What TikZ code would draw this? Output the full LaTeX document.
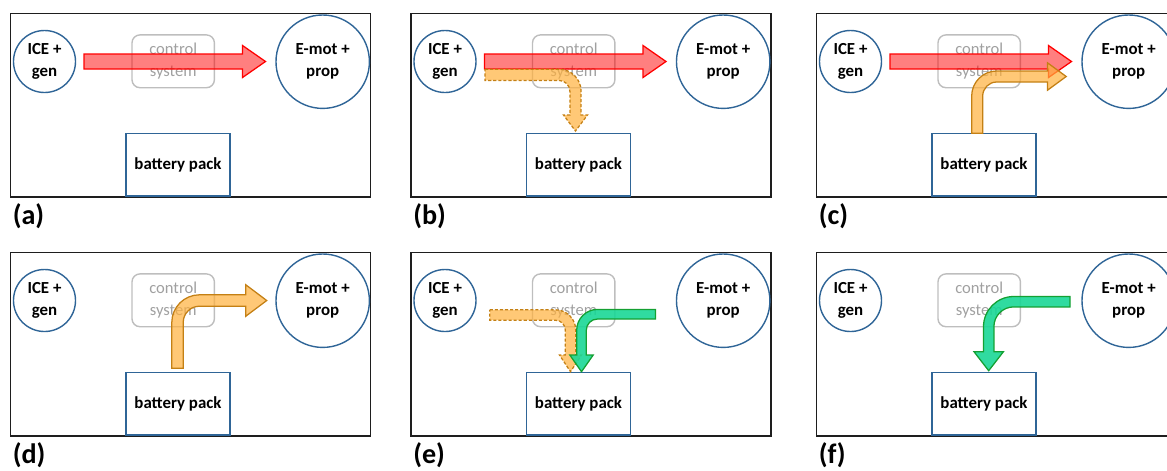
\documentclass[tikz,border=0pt]{standalone}
\usepackage{fontspec}
\setmainfont{Carlito}
\usepackage{tikz}
\usepackage{xcolor}

\definecolor{circblue}{RGB}{47,101,151}
\definecolor{framegray}{RGB}{30,30,30}
\definecolor{ctrlgray}{RGB}{190,190,190}
\definecolor{ctrltext}{RGB}{160,160,160}
\definecolor{redline}{RGB}{255,0,0}
\definecolor{orangefill}{RGB}{255,176,60}
\definecolor{orangeline}{RGB}{196,128,20}
\definecolor{greenfill}{RGB}{25,215,150}
\definecolor{greenline}{RGB}{20,160,50}

\newcommand{\unitfont}{\fontsize{12}{15.5}\selectfont\bfseries}
\newcommand{\ctrlfont}{\fontsize{11.8}{15.5}\selectfont}
\newcommand{\captfont}{\fontsize{20}{22}\selectfont\bfseries}

\tikzset{
  panelframe/.style={draw=framegray, line width=1.1pt},
  unit/.style={circle, draw=circblue, line width=1pt, inner sep=0pt, align=center, font=\unitfont},
  ctrlbox/.style={rectangle, rounded corners=0.2cm, draw=ctrlgray, line width=1pt, minimum width=2.06cm, minimum height=1.32cm, align=center, text=ctrltext, font=\ctrlfont},
  battbox/.style={rectangle, draw=circblue, line width=1pt, fill=white, minimum width=2.6cm, minimum height=1.56cm, text height=0.8em, text depth=0.05em, font=\unitfont},
  captag/.style={inner sep=0pt, font=\captfont},
  redarrow/.style={draw=redline, fill=redline, fill opacity=0.5, line width=0.9pt},
  orangearrow/.style={draw=orangeline, fill=orangefill, fill opacity=0.7, line width=0.9pt},
  orangedash/.style={orangearrow, dash pattern=on 2.2pt off 1.4pt},
  greenarrow/.style={draw=greenline, fill=greenfill, fill opacity=0.9, line width=0.9pt},
}

% style, tail x, centre y, head base x, half width, head half width, head length
\newcommand{\straightarrow}[7]{%
  \draw[#1] (#2,{#3-#5}) -- (#4,{#3-#5}) -- (#4,{#3-#6}) -- ({#4+#7},#3)
    -- (#4,{#3+#6}) -- (#4,{#3+#5}) -- (#2,{#3+#5}) -- cycle;}
% style, tail x, shaft y, bend x, head base y, half width, bend radius, head half width, head length
\newcommand{\arrowrightdown}[9]{%
  \draw[#1] (#2,{#3-#6}) -- ({#4-#7},{#3-#6}) arc[start angle=-90, end angle=0, radius={#7+#6}]
    -- ({#4+#6},#5) -- ({#4+#8},#5) -- (#4,{#5+#9}) -- ({#4-#8},#5) -- ({#4-#6},#5)
    -- ({#4-#6},{#3+#7}) arc[start angle=0, end angle=-90, radius={#7-#6}]
    -- (#2,{#3+#6}) -- cycle;}
\newcommand{\arrowleftdown}[9]{%
  \draw[#1] (#2,{#3-#6}) -- ({#4+#7},{#3-#6}) arc[start angle=-90, end angle=-180, radius={#7+#6}]
    -- ({#4-#6},#5) -- ({#4-#8},#5) -- (#4,{#5+#9}) -- ({#4+#8},#5) -- ({#4+#6},#5)
    -- ({#4+#6},{#3+#7}) arc[start angle=180, end angle=270, radius={#7-#6}]
    -- (#2,{#3+#6}) -- cycle;}
% style, shaft x, tail y, shaft y, head base x, half width, bend radius, head half width, head length
\newcommand{\arrowupright}[9]{%
  \draw[#1] ({#2-#6},#3) -- ({#2-#6},{#4+#7}) arc[start angle=180, end angle=270, radius={#7+#6}]
    -- (#5,{#4-#6}) -- (#5,{#4-#8}) -- ({#5+#9},#4) -- (#5,{#4+#8}) -- (#5,{#4+#6})
    -- ({#2+#7},{#4+#6}) arc[start angle=270, end angle=180, radius={#7-#6}]
    -- ({#2+#6},#3) -- cycle;}

% x shift, y shift, letter, arrows
\newcommand{\drawpanel}[4]{%
  \begin{scope}[shift={(#1,#2)}]
    \draw[panelframe] (10.7,13.3) rectangle (370.7,197);
    \node[ctrlbox] (ctrl-#3) at (173.2,61.3) {control\\system};
    \node[unit, minimum size=1.55cm] (ice-#3) at (44.5,61.5) {ICE +\\gen};
    \node[unit, minimum size=2.335cm] (emot-#3) at (322.7,61.7) {E-mot +\\prop};
    \node[battbox, anchor=south] (batt-#3) at (178,196.5) {battery pack};
    \node[captag, anchor=west] (tag-#3) at (12.5,216.5) {(#3)};
    #4
  \end{scope}}

\begin{document}
\begin{tikzpicture}[x=0.025cm, y=-0.025cm]
  \useasboundingbox (0,0) rectangle (1167,470);
  \clip (0,0) rectangle (1167,470);
  % top row
  \drawpanel{0}{0}{a}{\straightarrow{redarrow}{84}{61.5}{242.5}{7.5}{16}{23}}
  \drawpanel{400.5}{0}{b}{%
    \straightarrow{redarrow}{84}{61.5}{242.5}{7.5}{16}{23}
    \arrowrightdown{orangedash}{84.5}{74.8}{175}{115}{5.6}{16.5}{12}{16}}
  \drawpanel{806}{0}{c}{%
    \straightarrow{redarrow}{84}{61.5}{242.5}{7.5}{16}{23}
    \arrowupright{orangearrow}{171.2}{133.3}{76.5}{241.5}{5.5}{19.5}{13.7}{18.7}}
  % bottom row
  \drawpanel{0}{239}{d}{\arrowupright{orangearrow}{177.5}{129.3}{61.5}{245.7}{5.7}{22}{15.8}{21}}
  \drawpanel{400.5}{239}{e}{%
    \arrowrightdown{orangedash}{89.3}{76}{170}{116}{5.2}{15}{11}{16.7}
    \arrowleftdown{greenarrow}{255}{75.2}{181}{116}{4.8}{16}{11.7}{16.7}}
  \drawpanel{806}{239}{f}{\arrowleftdown{greenarrow}{264}{62.7}{182.7}{112.7}{5.2}{25}{14.7}{19}}
\end{tikzpicture}
\end{document}
